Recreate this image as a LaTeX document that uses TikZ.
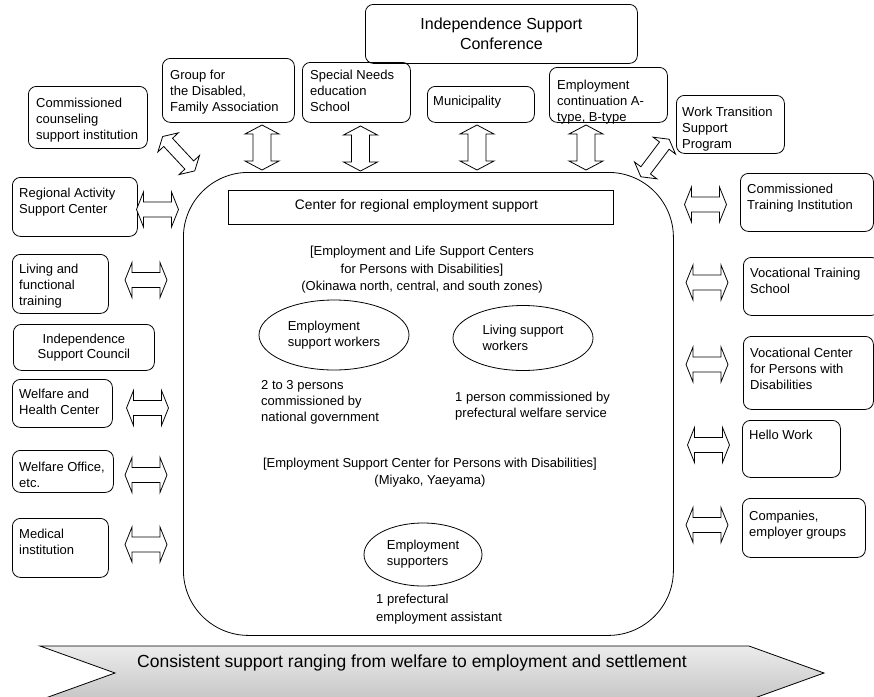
\documentclass[tikz,border=0pt]{standalone}
\usepackage{fontspec}
\setmainfont{Liberation Sans}
\usetikzlibrary{shapes.geometric}

\tikzset{
  ln/.style={line width=0.8pt},
  box/.style={ln, draw, rounded corners=8pt, anchor=north west, inner sep=0pt},
  sqbox/.style={ln, draw, anchor=north west, inner sep=0pt},
  inlbl/.style={anchor=north west, align=left, inner sep=0pt, xshift=7pt, yshift=-11pt,
                font=\fontsize{13}{16}\selectfont},
  oval/.style={ln, draw, ellipse, inner sep=0pt, align=left},
  note/.style={inner sep=0pt, font=\fontsize{13}{16}\selectfont},
  arrline/.style={ln, draw, fill=white, line join=miter},
  pics/dblarr/.style n args={4}{code={
    \draw[arrline] (-#1/2,0) -- (-#1/2+#4,-#2/2) -- (-#1/2+#4,-#3/2)
      -- (#1/2-#4,-#3/2) -- (#1/2-#4,-#2/2) -- (#1/2,0) -- (#1/2-#4,#2/2)
      -- (#1/2-#4,#3/2) -- (-#1/2+#4,#3/2) -- (-#1/2+#4,#2/2) -- cycle;
  }},
}

\begin{document}
\begin{tikzpicture}[x=1pt, y=-1pt, font=\fontsize{13}{16}\selectfont]
\useasboundingbox (0,0) rectangle (874,696);
\fill[white] (0,0) rectangle (874,696);

% central support centre
\node[ln, draw, rounded corners=65pt, minimum width=490pt, minimum height=463pt,
      anchor=north west, inner sep=0pt] (main) at (183,172) {};
\node[sqbox, minimum width=385pt, minimum height=34pt, anchor=north west] (crs) at (228,190) {};
\node[note, font=\fontsize{13.8}{16}\selectfont] (crst) at (416.5,206) {Center for regional employment support};

\node[note, align=center, anchor=north, font=\fontsize{13}{17.5}\selectfont] (lsc) at (422,246)
  {[Employment and Life Support Centers\\for Persons with Disabilities]\\(Okinawa north, central, and south zones)};

\node[oval, minimum width=150pt, minimum height=70pt] (esw) at (334,335) {Employment\\support workers};
\node[oval, minimum width=140pt, minimum height=65pt] (lsw) at (523,338) {Living support\\workers};

\node[note, align=left, anchor=north west] (nat) at (261,380)
  {2 to 3 persons\\commissioned by\\national government};
\node[note, align=left, anchor=north west] (pref) at (455,392)
  {1 person commissioned by\\prefectural welfare service};

\node[note, align=center, anchor=north, font=\fontsize{13}{17}\selectfont] (esc) at (430,458)
  {[Employment Support Center for Persons with Disabilities]\\(Miyako, Yaeyama)};

\node[oval, minimum width=118pt, minimum height=63pt] (es) at (423,554.5) {Employment\\supporters};
\node[note, align=left, anchor=north west, font=\fontsize{13}{18}\selectfont] (assist) at (376,594)
  {1 prefectural\\employment assistant};

% top row
\node[box, minimum width=272pt, minimum height=59pt, align=center,
      font=\fontsize{16}{20}\selectfont] (conf) at (365,4) {Independence Support\\Conference};
\node[box, minimum width=132pt, minimum height=64pt,
      label={[inlbl, xshift=1pt, yshift=-1pt]north west:Group for\\the Disabled,\\Family Association}] (grp) at (162,58) {};
\node[box, minimum width=108pt, minimum height=60pt,
      label={[inlbl, xshift=1pt, yshift=3pt]north west:Special Needs\\education\\School}] (sns) at (302,62) {};
\node[box, minimum width=107pt, minimum height=36pt,
      label={[inlbl, xshift=-1pt, yshift=1.5pt]north west:Municipality}] (mun) at (427,86) {};
\node[box, minimum width=118pt, minimum height=55pt,
      label={[inlbl, xshift=1pt, yshift=-1.5pt]north west:Employment\\continuation A-\\type, B-type}] (ect) at (549,67) {};
\node[box, minimum width=108pt, minimum height=58pt,
      label={[inlbl, xshift=-1pt, yshift=-1pt]north west:Work Transition\\Support\\Program}] (wtsp) at (676,95) {};

% left column
\node[box, minimum width=119pt, minimum height=62pt,
      label={[inlbl, xshift=1pt, yshift=-1pt]north west:Commissioned\\counseling\\support institution}] (ccsi) at (28,86) {};
\node[box, minimum width=125pt, minimum height=59pt,
      label={[inlbl]north west:Regional Activity\\Support Center}] (ras) at (12,177) {};
\node[box, minimum width=96pt, minimum height=59pt,
      label={[inlbl, yshift=1pt]north west:Living and\\functional\\training}] (lft) at (12,254) {};
\node[box, minimum width=141pt, minimum height=46pt, align=center,
      font=\fontsize{13}{15}\selectfont] (isc) at (13,324) {Independence\\Support Council};
\node[box, minimum width=100pt, minimum height=48pt,
      label={[inlbl, yshift=1pt]north west:Welfare and\\Health Center}] (whc) at (12,379) {};
\node[box, minimum width=101pt, minimum height=42pt,
      label={[inlbl, yshift=-1pt]north west:Welfare Office,\\etc.}] (wo) at (12,450) {};
\node[box, minimum width=96pt, minimum height=59pt,
      label={[inlbl]north west:Medical\\institution}] (med) at (12,518) {};

% right column
\node[box, minimum width=133pt, minimum height=58pt,
      label={[inlbl]north west:Commissioned\\Training Institution}] (cti) at (740,173) {};
\node[box, minimum width=136pt, minimum height=58pt,
      label={[inlbl]north west:Vocational Training\\School}] (vts) at (743,257) {};
\node[box, minimum width=130pt, minimum height=73pt,
      label={[inlbl, yshift=-1pt]north west:Vocational Center\\for Persons with\\Disabilities}] (vcpd) at (743,336) {};
\node[box, minimum width=98pt, minimum height=57pt,
      label={[inlbl, yshift=1pt]north west:Hello Work}] (hw) at (742,420) {};
\node[box, minimum width=123pt, minimum height=59pt,
      label={[inlbl, yshift=-1.5pt]north west:Companies,\\employer groups}] (comp) at (742,498) {};

% two-way links
\pic (aGrp) at (262,147.5)   [rotate=90] {dblarr={45}{34}{18}{9}};
\pic (aSns) at (360.5,148.5) [rotate=90] {dblarr={45}{34}{18}{9}};
\pic (aMun) at (477,147.5)   [rotate=90] {dblarr={45}{34}{18}{9}};
\pic (aEct) at (586,147.5)   [rotate=90] {dblarr={45}{34}{18}{9}};

\pic (aCcsi) at (178.7,153.7) [rotate=-47] {dblarr={47}{28}{12}{8}};
\pic (aWtsp) at (655,158)     [rotate=53]  {dblarr={47}{28}{12}{8}};

\pic (aRas) at (157.5,209.5) {dblarr={42}{35}{15}{7}};
\pic (aLft) at (146,280)     {dblarr={42}{35}{15}{7}};
\pic (aWhc) at (147.5,408)   {dblarr={42}{35}{15}{7}};
\pic (aWo)  at (146,475)     {dblarr={42}{35}{15}{7}};
\pic (aMed) at (146,544.5)   {dblarr={42}{35}{15}{7}};

\pic (aCti)  at (705.5,204.5) {dblarr={42}{35}{15}{7}};
\pic (aVts)  at (707,282.5)   {dblarr={42}{35}{15}{7}};
\pic (aVcpd) at (707,364.5)   {dblarr={42}{35}{15}{7}};
\pic (aHw)   at (708.5,445)   {dblarr={42}{35}{15}{7}};
\pic (aComp) at (707,525)     {dblarr={42}{35}{15}{7}};

% flow banner along the bottom
\draw[ln, top color=gray!15, bottom color=gray!45]
  (40,646) -- (749,646) -- (824,673) -- (749,700) -- (40,700) -- (115,673) -- cycle;
\node[inner sep=0pt, font=\fontsize{17.5}{20}\selectfont] (flow) at (412,663)
  {Consistent support ranging from welfare to employment and settlement};
\end{tikzpicture}
\end{document}
